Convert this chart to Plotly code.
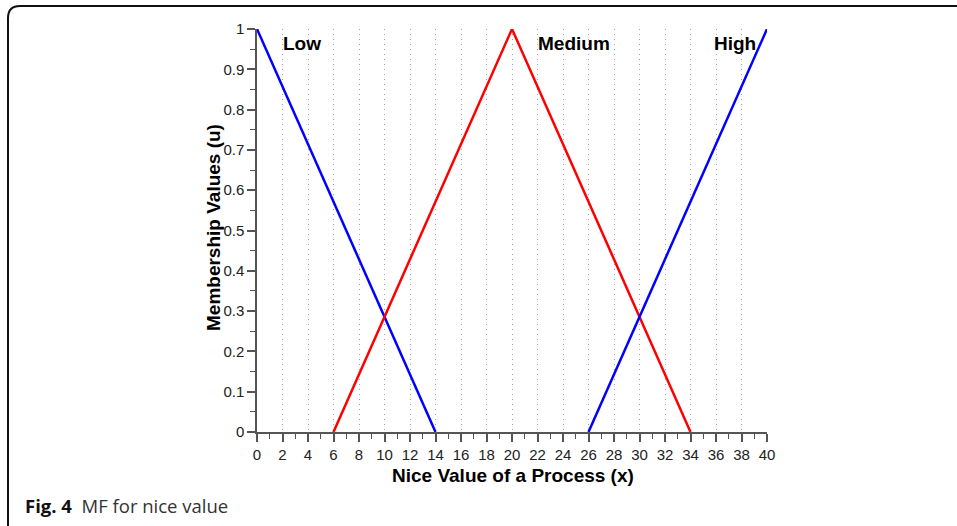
import plotly.graph_objects as go

# Membership function breakpoints (x) and membership values (u)
low_x = [0, 14]
low_u = [1, 0]
medium_x = [6, 20, 34]
medium_u = [0, 1, 0]
high_x = [26, 40]
high_u = [0, 1]

set_names = ["Low", "Medium", "High"]
set_label_x = [3.55, 24.85, 37.5]
set_label_u = [0.963, 0.965, 0.963]

x_ticks = list(range(0, 41, 2))
u_ticks = [round(i * 0.1, 1) for i in range(11)]
u_tick_text = ["0"] + [f"{v:.1f}" for v in u_ticks[1:-1]] + ["1"]

fig = go.Figure()
for xs, us, col in [(low_x, low_u, "#0000ff"),
                    (medium_x, medium_u, "#ff0000"),
                    (high_x, high_u, "#0000ff")]:
    fig.add_trace(go.Scatter(x=xs, y=us, mode="lines",
                             line=dict(color=col, width=2.5),
                             cliponaxis=False, showlegend=False,
                             hoverinfo="skip"))

for name, lx, lu in zip(set_names, set_label_x, set_label_u):
    fig.add_annotation(x=lx, y=lu, text=f"<b>{name}</b>", showarrow=False,
                       xanchor="center", yanchor="middle",
                       font=dict(family="Liberation Sans, Arial", size=19,
                                 color="#000"))

axis_font = dict(family="Liberation Sans, Arial", size=15, color="#222")

fig.update_xaxes(range=[0, 40], tickmode="array", tickvals=x_ticks,
                 ticktext=[str(v) for v in x_ticks],
                 ticks="outside", ticklen=8, tickwidth=1.5, tickcolor="#555",
                 minor=dict(dtick=1, ticks="outside", ticklen=5,
                            tickwidth=1.2, tickcolor="#555", showgrid=False),
                 showline=True, linecolor="#555", linewidth=1.5,
                 showgrid=True, gridcolor="#a0a0a0", griddash="1px,4px",
                 gridwidth=1, zeroline=False, tickfont=axis_font)
fig.update_yaxes(range=[0, 1], tickmode="array", tickvals=u_ticks,
                 ticktext=u_tick_text,
                 ticks="outside", ticklen=8, tickwidth=1.5, tickcolor="#555",
                 minor=dict(dtick=0.05, ticks="outside", ticklen=5,
                            tickwidth=1.2, tickcolor="#555", showgrid=False),
                 showline=True, linecolor="#555", linewidth=1.5,
                 showgrid=False, zeroline=False, tickfont=axis_font)


def px(v):
    return (v - 257) / 510


def py(v):
    return (432 - v) / 403


# Axis titles
fig.add_annotation(xref="paper", yref="paper", x=px(513), y=py(476),
                   xanchor="center", yanchor="middle",
                   text="<b>Nice Value of a Process (x)</b>", showarrow=False,
                   font=dict(family="Liberation Sans, Arial", size=19, color="#000"))
fig.add_annotation(xref="paper", yref="paper", x=px(213), y=py(228),
                   xanchor="center", yanchor="middle",
                   text="<b>Membership Values (u)</b>",
                   textangle=-90, showarrow=False,
                   font=dict(family="Liberation Sans, Arial", size=19, color="#000"))

# Figure caption
fig.add_annotation(xref="paper", yref="paper", x=px(23), y=py(505),
                   xanchor="left", yanchor="middle",
                   text="<b style='color:#111'>Fig. 4</b>  MF for nice value",
                   showarrow=False,
                   font=dict(family="Open Sans", size=18.5, color="#333"))

# Rounded frame around the figure panel
r = 12
left, top, right, bottom = 8, 6, 975, 540
path = (f"M {px(right)},{py(top)} L {px(left + r)},{py(top)} "
        f"Q {px(left)},{py(top)} {px(left)},{py(top + r)} "
        f"L {px(left)},{py(bottom - r)} "
        f"Q {px(left)},{py(bottom)} {px(left + r)},{py(bottom)} "
        f"L {px(right)},{py(bottom)}")
fig.add_shape(type="path", xref="paper", yref="paper", path=path,
              line=dict(color="#111", width=2))

fig.update_layout(width=957, height=526,
                  margin=dict(l=257, r=190, t=29, b=94),
                  paper_bgcolor="white", plot_bgcolor="white")

fig.write_html("out.html")
